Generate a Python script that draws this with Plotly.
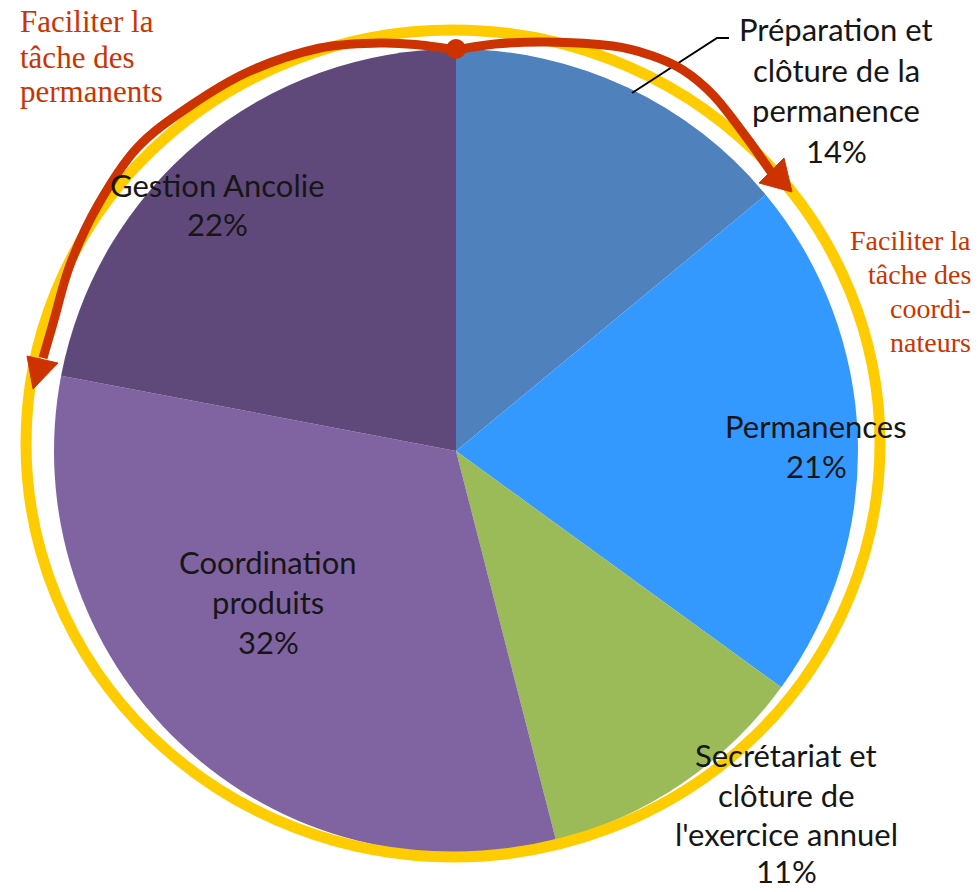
import plotly.graph_objects as go

W, H = 978, 892

# ---- data ----
categories = ["Préparation et clôture de la permanence", "Permanences",
              "Secrétariat et clôture de l'exercice annuel", "Coordination produits",
              "Gestion Ancolie"]
values = [14, 21, 11, 32, 22]
label_lines = [["Préparation et", "clôture de la", "permanence"],
               ["Permanences"],
               ["Secrétariat et", "clôture de", "l'exercice annuel"],
               ["Coordination", "produits"],
               ["Gestion Ancolie"]]
colors = ["#4F81BD", "#3399FF", "#9BBB59", "#8064A2", "#5F497A"]
note_left = ["Faciliter la", "tâche des", "permanents"]
note_right = ["Faciliter la", "tâche des", "coordi-", "nateurs"]

# ---- layout helpers (pixel -> paper) ----
def px(x):
    return x / W

def py(y):
    return 1 - y / H

cx, cy, R = 456, 451, 402

fig = go.Figure(go.Pie(
    labels=categories, values=values, sort=False, direction="clockwise",
    rotation=0, marker=dict(colors=colors, line=dict(width=0)),
    textinfo="none", hoverinfo="label+percent", showlegend=False,
    domain=dict(x=[px(cx - R), px(cx + R)], y=[py(cy + R), py(cy - R)])
))

# label placement (center x, middle y of each line) in pixels
label_pos = [
    (836, [29, 70, 110, 151]),
    (816, [426, 466]),
    (786, [755, 795, 834, 871]),
    (268, [562, 602, 642]),
    (217, [185, 224]),
]
annotations = []
for lines, v, (x, ys) in zip(label_lines, values, label_pos):
    texts = lines + [f"{v}%"]
    for t, y in zip(texts, ys):
        annotations.append(dict(x=px(x), y=py(y), xref="paper", yref="paper",
                                text=t, showarrow=False, xanchor="center", yanchor="middle",
                                font=dict(family="Lato", size=31, color="#161616")))

red = "#CC3300"
for t, y in zip(note_left, [21, 57, 92]):
    annotations.append(dict(x=px(18), y=py(y), xref="paper", yref="paper", text=t,
                            showarrow=False, xanchor="left", yanchor="middle",
                            font=dict(family="Liberation Serif", size=31, color=red)))
for t, y in zip(note_right, [240, 274, 308, 342]):
    annotations.append(dict(x=px(973), y=py(y), xref="paper", yref="paper", text=t,
                            showarrow=False, xanchor="right", yanchor="middle",
                            font=dict(family="Liberation Serif", size=28, color=red)))

# ---- decorative shapes ----
def smooth_path(pts):
    d = f"M {px(pts[0][0])},{py(pts[0][1])}"
    n = len(pts)
    for i in range(n - 1):
        p0 = pts[i - 1] if i > 0 else pts[i]
        p1 = pts[i]
        p2 = pts[i + 1]
        p3 = pts[i + 2] if i + 2 < n else pts[i + 1]
        c1 = (p1[0] + (p2[0] - p0[0]) / 6, p1[1] + (p2[1] - p0[1]) / 6)
        c2 = (p2[0] - (p3[0] - p1[0]) / 6, p2[1] - (p3[1] - p1[1]) / 6)
        d += (f" C {px(c1[0])},{py(c1[1])} {px(c2[0])},{py(c2[1])} "
              f"{px(p2[0])},{py(p2[1])}")
    return d

def poly_path(pts):
    return "M " + " L ".join(f"{px(x)},{py(y)}" for x, y in pts) + " Z"

shapes = []
# yellow ring
shapes.append(dict(type="circle", xref="paper", yref="paper",
                   x0=px(26), x1=px(880), y0=py(857), y1=py(30),
                   line=dict(color="#FFCC00", width=11), layer="above"))
# leader line
shapes.append(dict(type="path", xref="paper", yref="paper",
                   path=f"M {px(632)},{py(93)} L {px(717)},{py(38)} L {px(729)},{py(38)}",
                   line=dict(color="black", width=2), layer="above"))
# red arcs
right_arc = [(456, 50), (495, 44), (547, 42), (613, 46), (650, 55), (683, 70),
             (714, 96), (747, 138), (771, 172)]
left_arc = [(456, 50), (420, 45), (380, 43), (320, 48), (250, 71), (190, 106), (137, 148),
            (98, 205), (70, 265), (54, 320), (43, 358)]
for arc in (right_arc, left_arc):
    shapes.append(dict(type="path", xref="paper", yref="paper", path=smooth_path(arc),
                       line=dict(color=red, width=9), layer="above"))
shapes.append(dict(type="path", xref="paper", yref="paper",
                   path=poly_path([(759, 183), (784, 158), (792, 192)]),
                   fillcolor=red, line=dict(color=red, width=1), layer="above"))
shapes.append(dict(type="path", xref="paper", yref="paper",
                   path=poly_path([(27, 356), (58, 363), (33, 389)]),
                   fillcolor=red, line=dict(color=red, width=1), layer="above"))
shapes.append(dict(type="circle", xref="paper", yref="paper",
                   x0=px(446), x1=px(466), y0=py(59), y1=py(39),
                   fillcolor=red, line=dict(color=red, width=0), layer="above"))

fig.update_layout(width=W, height=H, margin=dict(l=0, r=0, t=0, b=0),
                  paper_bgcolor="white", plot_bgcolor="white",
                  annotations=annotations, shapes=shapes, showlegend=False)

fig.write_html("out.html", config={"displayModeBar": False},
               post_script="document.body.style.margin='0px';document.body.style.overflow='hidden';")
